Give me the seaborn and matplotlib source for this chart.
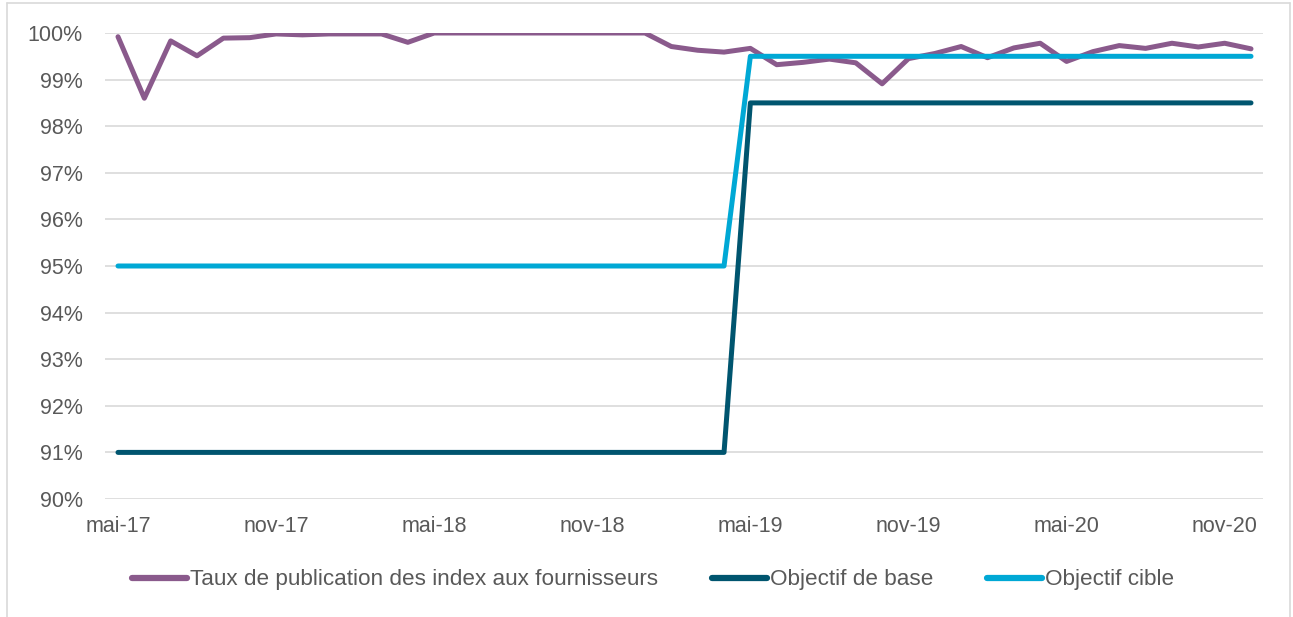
import matplotlib
matplotlib.use("Agg")
import matplotlib.pyplot as plt
import seaborn as sns
import pandas as pd
import numpy as np

# monthly series, mai-17 .. dec-20
months = ["mai-17", "juin-17", "juil-17", "août-17", "sept-17", "oct-17", "nov-17", "déc-17",
          "janv-18", "févr-18", "mars-18", "avr-18", "mai-18", "juin-18", "juil-18", "août-18",
          "sept-18", "oct-18", "nov-18", "déc-18", "janv-19", "févr-19", "mars-19", "avr-19",
          "mai-19", "juin-19", "juil-19", "août-19", "sept-19", "oct-19", "nov-19", "déc-19",
          "janv-20", "févr-20", "mars-20", "avr-20", "mai-20", "juin-20", "juil-20", "août-20",
          "sept-20", "oct-20", "nov-20", "déc-20"]

taux = [99.92, 98.60, 99.83, 99.51, 99.89, 99.90, 99.98, 99.96,
        99.98, 99.98, 99.98, 99.80, 100.0, 100.0, 100.0, 100.0,
        100.0, 100.0, 100.0, 100.0, 100.0, 99.71, 99.63, 99.59,
        99.67, 99.32, 99.37, 99.44, 99.36, 98.91, 99.45, 99.56,
        99.71, 99.47, 99.68, 99.78, 99.39, 99.60, 99.73, 99.67,
        99.78, 99.70, 99.78, 99.66]

objectif_base = [91.0] * 24 + [98.5] * 20
objectif_cible = [95.0] * 24 + [99.5] * 20

tick_labels = ["mai-17", "nov-17", "mai-18", "nov-18", "mai-19", "nov-19", "mai-20", "nov-20"]
y_ticks = list(range(90, 101))

series_names = ["Taux de publication des index aux fournisseurs",
                "Objectif de base", "Objectif cible"]
colors = ["#8A5A8C", "#00556F", "#00A8D5"]

idx = np.arange(len(months))
df = pd.DataFrame({
    "idx": np.tile(idx, 3),
    "value": taux + objectif_base + objectif_cible,
    "serie": np.repeat(series_names, len(months)),
})

sns.set_style("white")
plt.rcParams["font.family"] = ["Liberation Sans", "DejaVu Sans"]
text_color = "#595959"

fig = plt.figure(figsize=(12.93, 6.17), dpi=100)
ax = fig.add_axes([105 / 1293, 1 - 499 / 617, (1263 - 105) / 1293, (499 - 33) / 617])

sns.lineplot(data=df, x="idx", y="value", hue="serie", hue_order=series_names,
             palette=colors, linewidth=3.6, ax=ax, legend=True)
for line in ax.lines:
    line.set_solid_capstyle("round")
    line.set_solid_joinstyle("round")

# month spacing ~26.36 px, first point at x=118
ax.set_xlim(-13 / 26.36, 43 + 12 / 26.36)
ax.set_ylim(90, 100)
ax.set_yticks(y_ticks)
ax.set_yticklabels([f"{t}%" for t in y_ticks])
tick_pos = [months.index(t) for t in tick_labels]
ax.set_xticks(tick_pos)
ax.set_xticklabels(tick_labels)
ax.tick_params(axis="both", length=0, labelsize=15.5, colors=text_color)
ax.tick_params(axis="y", pad=16)
ax.tick_params(axis="x", pad=12)
ax.grid(axis="y", color="#D9D9D9", linewidth=1.2)
ax.set_axisbelow(True)
for s in ax.spines.values():
    s.set_visible(False)
ax.set_xlabel("")
ax.set_ylabel("")

handles, labels = ax.get_legend_handles_labels()
for h in handles:
    h.set_linewidth(4.5)
    h.set_solid_capstyle("round")
ax.legend(handles, labels, loc="center", bbox_to_anchor=(653 / 1293, (617 - 580) / 617),
          bbox_transform=fig.transFigure, ncol=3, frameon=False, fontsize=16.2,
          handlelength=2.45, handletextpad=0.12, columnspacing=2.4, labelcolor=text_color)

# chart area border
bc = "#D9D9D9"
fig.add_artist(plt.Line2D([7 / 1293, 7 / 1293], [0, 1 - 3 / 617], color=bc, lw=1.2))
fig.add_artist(plt.Line2D([7 / 1293, 1290 / 1293], [1 - 3 / 617, 1 - 3 / 617], color=bc, lw=1.2))
fig.add_artist(plt.Line2D([1290 / 1293, 1290 / 1293], [0, 1 - 3 / 617], color=bc, lw=1.2))

fig.savefig("out.png", dpi=100)
